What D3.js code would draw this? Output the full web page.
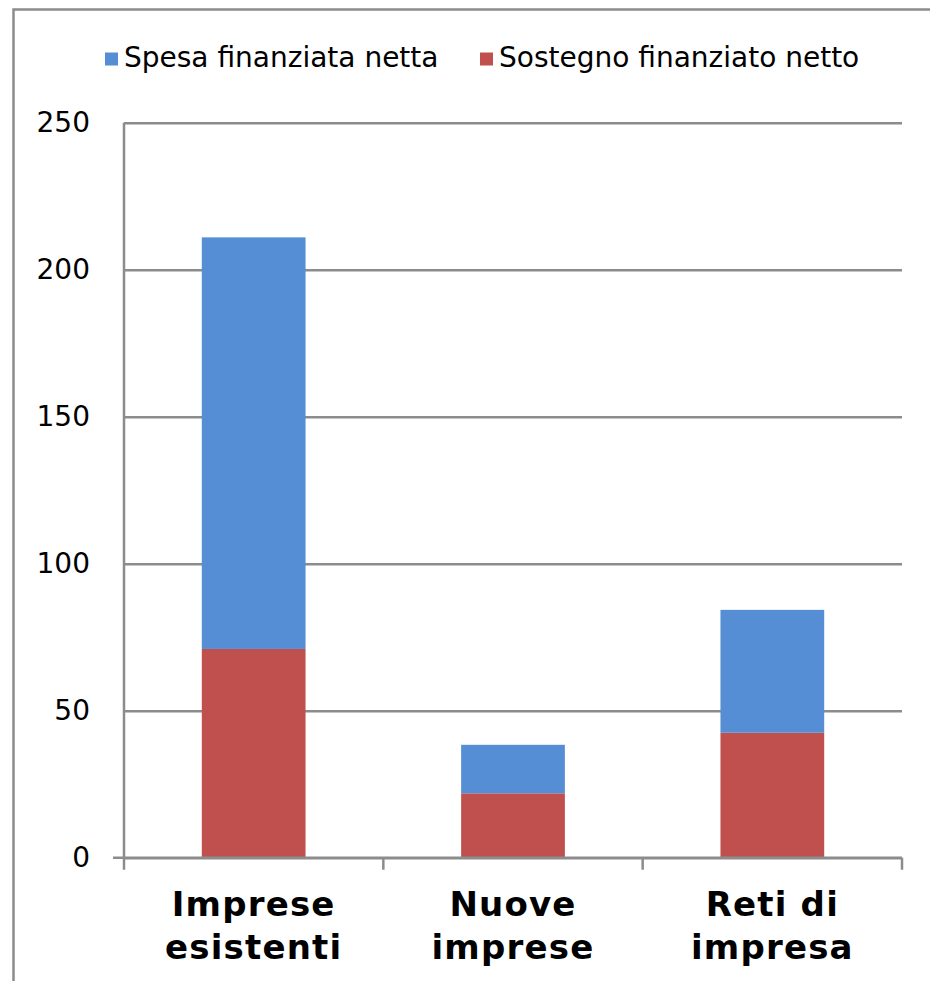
<!DOCTYPE html>
<html><head><meta charset="utf-8">
<script src="https://cdn.jsdelivr.net/npm/d3@7"></script>
<style>body{margin:0;background:#fff;}svg{display:block;}</style>
</head><body>
<script>
const categories = [["Imprese","esistenti"],["Nuove","imprese"],["Reti di","impresa"]];
const seriesNames = ["Spesa finanziata netta","Sostegno finanziato netto"];
const sostegno = [71.0, 21.9, 42.5];
const spesa = [140.0, 16.5, 41.8];
const yTicks = [0,50,100,150,200,250];
const colors = {spesa:"#558ED5", sostegno:"#C0504D"};

const W=930,H=981;
const svg=d3.select("body").append("svg").attr("width",W).attr("height",H);
// outer frame
svg.append("path").attr("d","M13.5,990 V9.5 H940").attr("fill","none").attr("stroke","#8c8c8c").attr("stroke-width",2.5);

const x0=124,x1=902,y0=857.7,y1=122.7;
const keys = categories.map((c,i)=>i);
const x=d3.scaleBand().domain(keys).range([x0,x1]).paddingInner(0.6).paddingOuter(0.3);
const y=d3.scaleLinear().domain([0,250]).range([y0,y1]);
const grid="#8c8c8c";

// gridlines + y labels
const ya=svg.append("g").attr("transform",`translate(${x0},0)`)
  .call(d3.axisLeft(y).tickValues(yTicks).tickSize(11).tickPadding(23));
ya.select(".domain").remove();
ya.selectAll(".tick line").attr("stroke",grid).attr("stroke-width",2.5).attr("x2",x1-x0);
ya.selectAll(".tick text").attr("font-family","DejaVu Sans, Verdana, sans-serif").attr("font-size",28).attr("fill","#000").attr("dy","0.3em");
// y axis line
svg.append("line").attr("x1",x0).attr("x2",x0).attr("y1",y1).attr("y2",y0).attr("stroke",grid).attr("stroke-width",2.5);

// stacked bars
const data=keys.map(i=>({i,sostegno:sostegno[i],spesa:spesa[i]}));
const stack=d3.stack().keys(["sostegno","spesa"])(data);
svg.append("g").selectAll("g").data(stack).join("g").attr("fill",d=>colors[d.key])
  .selectAll("rect").data(d=>d).join("rect")
  .attr("x",d=>x(d.data.i)).attr("width",x.bandwidth())
  .attr("y",d=>y(d[1])).attr("height",d=>y(d[0])-y(d[1]));

// x axis
const xa=d3.scaleLinear().domain([0,3]).range([x0,x1]);
svg.append("line").attr("x1",x0-11).attr("x2",x1).attr("y1",y0).attr("y2",y0).attr("stroke",grid).attr("stroke-width",2.5);
svg.append("g").selectAll("line").data([0,1,2,3]).join("line")
  .attr("x1",d=>xa(d)).attr("x2",d=>xa(d)).attr("y1",y0).attr("y2",y0+12)
  .attr("stroke",grid).attr("stroke-width",2.5);

// category labels
const lab=svg.append("g").attr("font-family","DejaVu Sans, Verdana, sans-serif").attr("font-weight","bold").attr("font-size",34).attr("letter-spacing","1.2px").attr("text-anchor","middle").attr("fill","#000");
keys.forEach(i=>{
  const cx=x(i)+x.bandwidth()/2;
  const t=lab.append("text").attr("x",cx).attr("y",916);
  t.append("tspan").attr("x",cx).text(categories[i][0]);
  t.append("tspan").attr("x",cx).attr("dy",43).text(categories[i][1]);
});

// legend
const leg=svg.append("g").attr("font-family","DejaVu Sans, Verdana, sans-serif").attr("font-size",28).attr("fill","#000");
const legItems=[{name:seriesNames[0],c:colors.spesa,x:105},{name:seriesNames[1],c:colors.sostegno,x:480}];
legItems.forEach(d=>{
  leg.append("rect").attr("x",d.x).attr("y",52.5).attr("width",13).attr("height",13).attr("fill",d.c);
  leg.append("text").attr("x",d.x+19).attr("y",67).text(d.name);
});
</script>
</body></html>
